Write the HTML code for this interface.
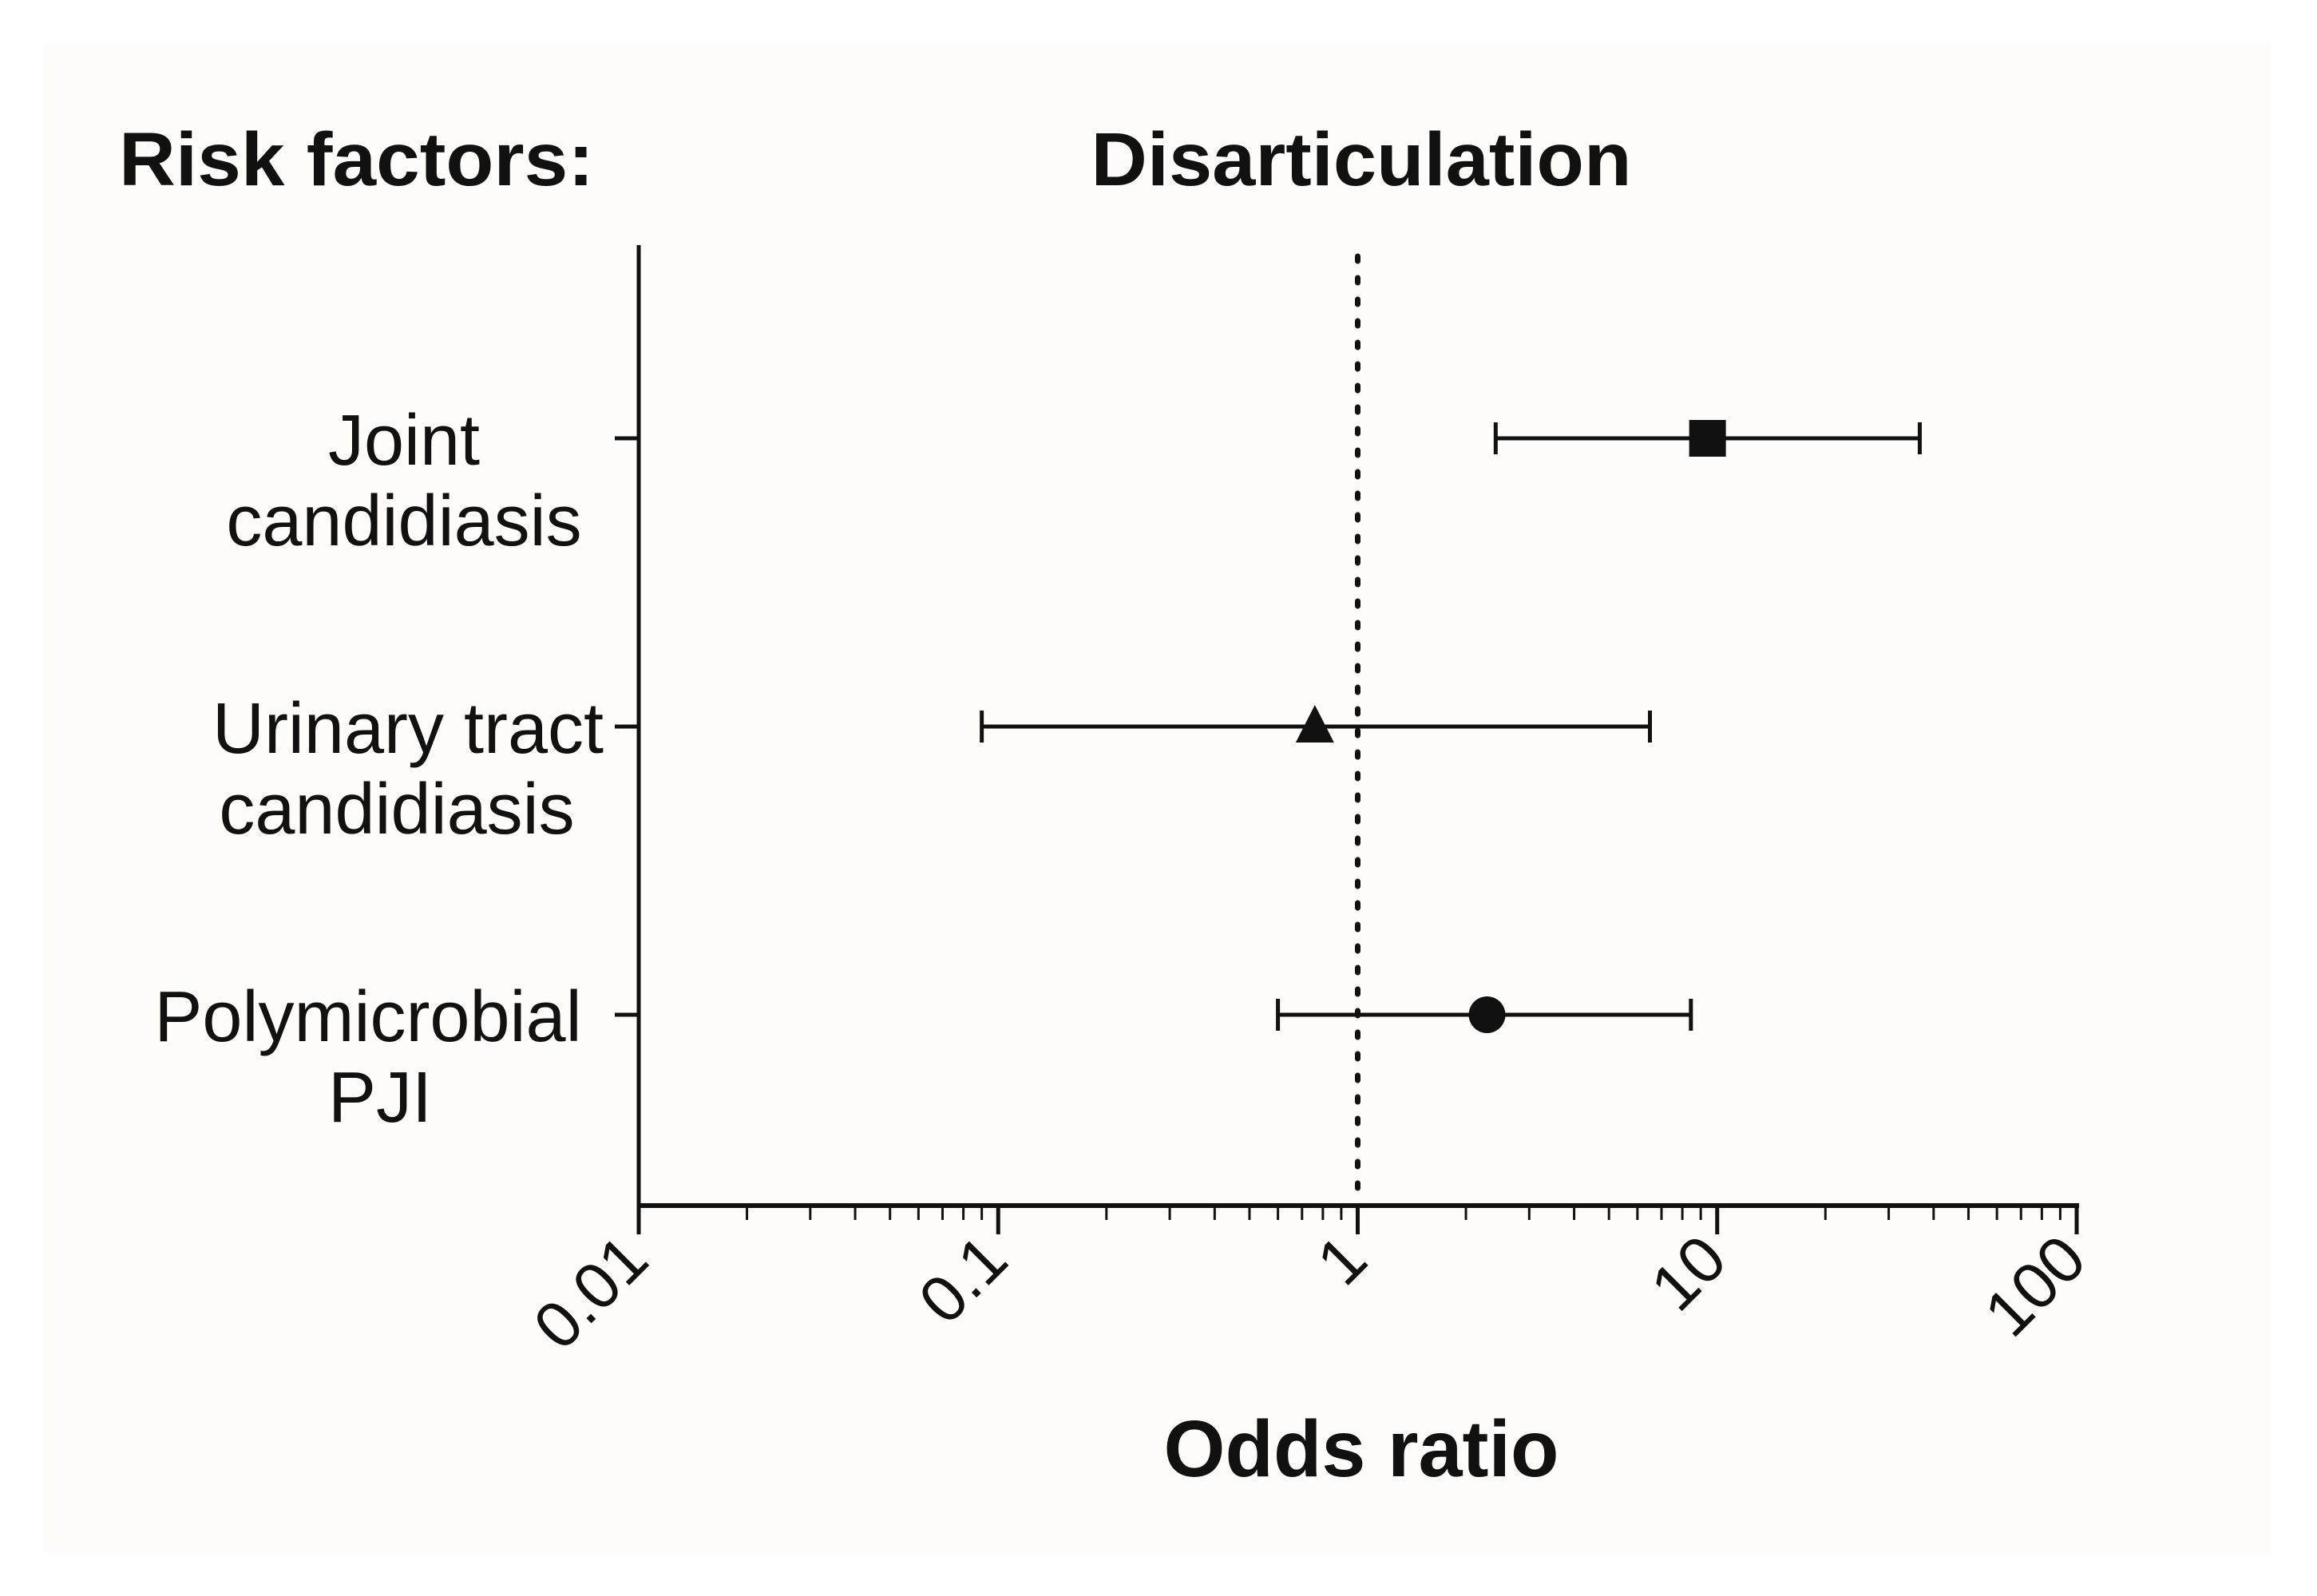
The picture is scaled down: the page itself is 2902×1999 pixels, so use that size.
<!DOCTYPE html>
<html><head><meta charset="utf-8"><style>
html,body{margin:0;padding:0;background:#fff}
svg{display:block}
text{font-family:"Liberation Sans",Arial,sans-serif;fill:#111}
</style></head><body>
<svg id="chart" width="2902" height="1999" viewBox="0 0 2902 1999">
<rect x="55" y="55" width="2790" height="1890" fill="#fdfcfa"/>
<text x="149" y="232" font-size="95" font-weight="bold" textLength="595" lengthAdjust="spacingAndGlyphs">Risk factors:</text>
<text x="1705" y="232" font-size="95" font-weight="bold" text-anchor="middle" textLength="677" lengthAdjust="spacingAndGlyphs">Disarticulation</text>
<text x="1705" y="1849" font-size="100" font-weight="bold" text-anchor="middle" textLength="495" lengthAdjust="spacingAndGlyphs">Odds ratio</text>
<g id="axes"></g>
<g id="marks"></g>
</svg>
<script>
const categories = ["Joint candidiasis", "Urinary tract candidiasis", "Polymicrobial PJI"];
const labelLines = [["Joint", "candidiasis"], ["Urinary tract", "candidiasis"], ["Polymicrobial", "PJI"]];
const oddsRatios = [9.4, 0.76, 2.29];
const lowerCI = [2.42, 0.090, 0.60];
const upperCI = [36.6, 6.5, 8.45];
const markers = ["square", "triangle", "circle"];
const tickValues = [0.01, 0.1, 1, 10, 100];
const tickLabels = ["0.01", "0.1", "1", "10", "100"];

const NS = "http://www.w3.org/2000/svg";
const X0 = 800, X1 = 2601, YTOP = 307, YAX = 1510;
const ROW0 = 549, ROWSTEP = 361;
function xScale(v){ return X0 + (Math.log10(v) + 2) / 4 * (X1 - X0); }
function yScale(i){ return ROW0 + i * ROWSTEP; }
function mk(tag, attrs, parent){
  const e = document.createElementNS(NS, tag);
  for (const k in attrs) e.setAttribute(k, attrs[k]);
  parent.appendChild(e);
  return e;
}
const axes = document.getElementById('axes');
const marks = document.getElementById('marks');

let yl = mk('line', {x1:X0, y1:YTOP, x2:X0, y2:YAX+3, stroke:'#111', 'stroke-width':5}, axes);


let xl = mk('line', {x1:X0-2, y1:YAX, x2:X1+3, y2:YAX, stroke:'#111', 'stroke-width':6}, axes);



for (let d = -2; d < 2; d++) {
  for (let m = 2; m <= 9; m++) {
    const x = xScale(m * Math.pow(10, d));
    const t = mk('line', {x1:x, y1:YAX, x2:x, y2:YAX+18, stroke:'#111', 'stroke-width':3}, axes);
    
    
  }
}
tickValues.forEach((v, i) => {
  const x = xScale(v);
  const t = mk('line', {x1:x, y1:YAX, x2:x, y2:YAX+36, stroke:'#111', 'stroke-width':5}, axes);
  
  
  const lbl = mk('text', {x:x+16, y:YAX+72, 'font-size':82, 'text-anchor':'end', transform:`rotate(-45 ${x+16} ${YAX+72})`}, axes);
  lbl.textContent = tickLabels[i];
  
  
});

const rx = xScale(1);
const ref = mk('line', {x1:rx, y1:YTOP+14, x2:rx, y2:YAX-6, stroke:'#111', 'stroke-width':7, 'stroke-dasharray':'6 21', 'stroke-linecap':'round'}, axes);



const centers = [[506, 506], [511, 497], [461, 476]];
categories.forEach((c, i) => {
  const y = yScale(i);
  const t = mk('line', {x1:X0-30, y1:y, x2:X0, y2:y, stroke:'#111', 'stroke-width':5}, axes);
  
  
  labelLines[i].forEach((ln, j) => {
    const tx = mk('text', {x:centers[i][j], y:y + 33 + j*101, 'font-size':90, 'text-anchor':'middle'}, axes);
    tx.textContent = ln;
    
    
  });
  const xl_ = xScale(lowerCI[i]), xu = xScale(upperCI[i]);
  const ci = mk('line', {x1:xl_, y1:y, x2:xu, y2:y, stroke:'#111', 'stroke-width':5}, marks);
  
  
  [xl_, xu].forEach(cx => {
    const cap = mk('line', {x1:cx, y1:y-20, x2:cx, y2:y+20, stroke:'#111', 'stroke-width':5}, marks);
    
    
  });
  const px = xScale(oddsRatios[i]);
  let p;
  if (markers[i] === 'square') p = mk('rect', {x:px-23, y:y-23, width:46, height:46, fill:'#111'}, marks);
  else if (markers[i] === 'triangle') p = mk('polygon', {points:`${px},${y-27} ${px-24},${y+20} ${px+24},${y+20}`, fill:'#111'}, marks);
  else p = mk('circle', {cx:px, cy:y, r:23, fill:'#111'}, marks);
  
  
});
</script>
</body></html>
